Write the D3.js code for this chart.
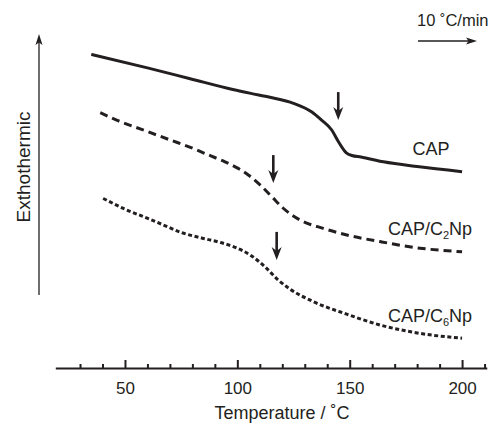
<!DOCTYPE html>
<html>
<head>
<meta charset="utf-8">
<script src="https://cdn.jsdelivr.net/npm/d3@7"></script>
<style>
  body { margin: 0; background: #fff; }
  text { font-family: "Liberation Sans", Arial, sans-serif; fill: #231f20; }
</style>
</head>
<body>
<svg id="chart" width="499" height="430"></svg>
<script>
// temperature (C) and heat flow (arbitrary units)
var capTemp   = [35, 60, 79, 98, 106, 114.5, 125, 133, 137.5, 142, 145, 148.5, 151, 155, 165, 180, 200]
var capFlow   = [95.2, 90.7, 87.1, 83.5, 82.2, 80.9, 78.9, 76.1, 73.3, 70, 66.1, 62.4, 61.5, 61.0, 59.4, 57.8, 56.1]

var c2Temp    = [39, 46.3, 57.4, 69.3, 81.2, 87.1, 94.5, 100.4, 104.9, 110.1, 115.3, 120.3, 127.9, 138.2, 148.7, 163.5, 181.3, 200]
var c2Flow    = [75.8, 73.3, 70.2, 66.9, 63.6, 61.7, 59.4, 57.2, 55, 51.7, 47.8, 44, 40, 37.2, 35, 32.8, 30.6, 29.4]

var c6Temp    = [40.3, 50, 58.9, 66.3, 75.2, 84.1, 93, 99, 106.4, 112.3, 118.2, 123.4, 133.8, 148.7, 163.5, 181.3, 200]
var c6Flow    = [47.2, 43.6, 40.9, 38.6, 35.8, 34.0, 32.4, 30.9, 28, 24.4, 20, 17, 12.8, 8.6, 5, 2.2, 0.6]

// Tg markers (arrow tips)
var tgTemp    = [144.9, 116, 117.5]
var tgFlow    = [73.3, 52.3, 26.7]

var sampleNames = ['CAP', 'CAP/C2Np', 'CAP/C6Np']
var majorTicks  = [50, 100, 150, 200]
var minorTicks  = [30, 40, 60, 70, 80, 90, 110, 120, 130, 140, 160, 170, 180, 190, 210]

var ink = '#231f20'
var svg = d3.select('#chart')

var x = d3.scaleLinear().domain([19, 211]).range([55.3, 486.8])
var y = d3.scaleLinear().domain([0, 100]).range([340, 40])

var line = d3.line()
    .x(function(d) { return x(d[0]) })
    .y(function(d) { return y(d[1]) })
    .curve(d3.curveMonotoneX)

var series = [
  { name: sampleNames[0], pts: d3.zip(capTemp, capFlow), dash: null,  lx: 431, ly: 155 },
  { name: sampleNames[1], pts: d3.zip(c2Temp, c2Flow),   dash: '8,5', lx: 430, ly: 235 },
  { name: sampleNames[2], pts: d3.zip(c6Temp, c6Flow),   dash: '4,2.6', lx: 430, ly: 322 }
]

svg.selectAll('.trace')
  .data(series)
  .enter().append('path')
    .attr('class', 'trace')
    .attr('d', function(d) { return line(d.pts) })
    .attr('fill', 'none')
    .attr('stroke', ink)
    .attr('stroke-width', 3)
    .attr('stroke-dasharray', function(d) { return d.dash })

// labels, with subscripts
series.forEach(function(s) {
  var t = svg.append('text')
      .attr('x', s.lx).attr('y', s.ly)
      .attr('text-anchor', 'middle')
      .style('font-size', '18px')
  var m = s.name.match(/^(CAP\/C)(\d)(Np)$/)
  if (m) {
    t.append('tspan').text(m[1])
    t.append('tspan').text(m[2]).attr('dy', 4).style('font-size', '11px')
    t.append('tspan').text(m[3]).attr('dy', -4)
  } else {
    t.text(s.name)
  }
})

// Tg arrows
var arrowLen = 28
tgTemp.forEach(function(t, i) {
  var ax = x(t), ay = y(tgFlow[i])
  svg.append('line')
    .attr('x1', ax).attr('x2', ax)
    .attr('y1', ay - arrowLen).attr('y2', ay - 6)
    .attr('stroke', ink).attr('stroke-width', 2.6)
  svg.append('path')
    .attr('d', 'M' + ax + ',' + ay + 'l-5,-13l5,4l5,-4z')
    .attr('fill', ink)
})

// x axis: ticks point up
var gx = svg.append('g').attr('transform', 'translate(0,368)')
gx.call(d3.axisBottom(x).tickValues(minorTicks).tickSize(-4).tickSizeOuter(0).tickFormat(''))
gx.call(function(g) {
  g.select('.domain').attr('stroke', ink).attr('stroke-width', 2.2)
  g.selectAll('.tick line').attr('stroke', ink).attr('stroke-width', 2)
})
var gx2 = svg.append('g').attr('transform', 'translate(0,368)')
gx2.call(d3.axisBottom(x).tickValues(majorTicks).tickSize(-8).tickSizeOuter(0).tickPadding(14))
gx2.select('.domain').remove()
gx2.selectAll('.tick line').attr('stroke', ink).attr('stroke-width', 2)
gx2.selectAll('.tick text')
  .style('font-size', '17px')
  .style('font-family', '"Liberation Sans", Arial, sans-serif')
  .attr('fill', ink)

svg.append('text')
  .attr('x', 282).attr('y', 419)
  .attr('text-anchor', 'middle')
  .style('font-size', '18px')
  .text('Temperature / ˚C')

// exothermic direction arrow
svg.append('line')
  .attr('x1', 39).attr('x2', 39).attr('y1', 295).attr('y2', 38)
  .attr('stroke', ink).attr('stroke-width', 1.3)
svg.append('path')
  .attr('d', 'M39,34l-3.5,11l3.5,-2.5l3.5,2.5z')
  .attr('fill', ink)
svg.append('text')
  .attr('transform', 'translate(30,167) rotate(-90)')
  .attr('text-anchor', 'middle')
  .style('font-size', '19px')
  .text('Exthothermic')

// heating rate
svg.append('text')
  .attr('x', 417).attr('y', 26)
  .style('font-size', '16.5px')
  .text('10 ˚C/min')
svg.append('line')
  .attr('x1', 418).attr('x2', 473).attr('y1', 41).attr('y2', 41)
  .attr('stroke', ink).attr('stroke-width', 1.3)
svg.append('path')
  .attr('d', 'M477,41l-11,-3.5l2.5,3.5l-2.5,3.5z')
  .attr('fill', ink)
</script>
</body>
</html>
